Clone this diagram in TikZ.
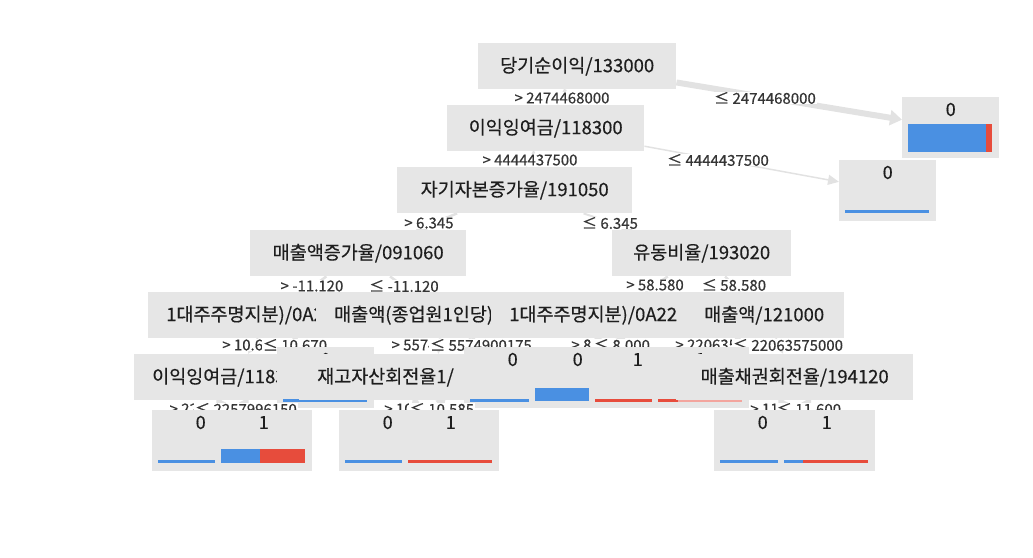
\documentclass[tikz,border=0pt]{standalone}
\usepackage{fontspec}
\setmainfont{Noto Sans CJK KR}[FakeBold=0.4]
\usepackage{tikz}
\usetikzlibrary{arrows.meta,backgrounds}

\definecolor{boxgray}{RGB}{230,230,230}
\definecolor{edgegray}{RGB}{226,226,226}
\definecolor{ink}{RGB}{30,30,30}
\definecolor{barblue}{RGB}{74,144,226}
\definecolor{barred}{RGB}{231,76,60}

\begin{document}
\begin{tikzpicture}[x=1pt, y=-1pt,
  box/.style={fill=boxgray, inner sep=0pt, minimum height=46pt, anchor=north west, text=ink, font=\fontsize{18.5}{21}\selectfont},
  cutbox/.style={box, text width=#1, align=left, inner xsep=18pt},
  leaf/.style={fill=boxgray, inner sep=0pt, minimum width=97pt, minimum height=61pt, anchor=north west},
  digit/.style={inner sep=0pt, text=ink, font=\fontsize{18}{21}\selectfont},
  rule/.style={fill=white, inner xsep=1pt, inner ysep=0.5pt, text=ink!90, font=\fontsize{15}{17}\selectfont},
  branch/.style={draw=edgegray, line width=2.5pt, -{Triangle[length=11pt,width=10pt]}}]
\useasboundingbox (0,0) rectangle (1033,557);

\node[box, minimum width=198pt] (root) at (478,43) {당기순이익/133000};
\node[rule] (rootgt) at (562,98) {> 2474468000};
\node[rule] (rootle) at (765,98) {≤ 2474468000};
\node[leaf] (lfa) at (902,97) {};
\node[digit] (lfan) at ([yshift=-12.5pt]lfa.north) {0};
\fill[barblue] (908,124) rectangle (986,152);
\fill[barred] (986,124) rectangle (992,152);

\node[box, minimum width=197pt] (profit) at (447,105) {이익잉여금/118300};
\node[rule] (profitgt) at (530,160) {> 4444437500};
\node[rule] (profitle) at (718,160) {≤ 4444437500};
\node[leaf] (lfb) at (839,160) {};
\node[digit] (lfbn) at ([yshift=-12.5pt]lfb.north) {0};
\fill[barblue] (845,210) rectangle (929,213);

\node[box, minimum width=235pt] (equity) at (397,167) {자기자본증가율/191050};
\node[rule] (equitygt) at (429,223) {> 6.345};
\node[rule] (equityle) at (610,223) {≤ 6.345};

\node[box, minimum width=216pt] (sales) at (250,230) {매출액증가율/091060};
\node[box, minimum width=179pt] (current) at (612,230) {유동비율/193020};
\node[rule] (salesgt) at (312,286) {> -11.120};
\node[rule] (salesle) at (404,286) {≤ -11.120};
\node[rule] (currentgt) at (655,285) {> 58.580};
\node[rule] (currentle) at (734,285) {≤ 58.580};

\node[cutbox=214pt] (owner) at (148,292) {1대주주명지분)/0A22};
\node[cutbox=218pt] (staff) at (316,292) {매출액(종업원1인당)};
\node[cutbox=204pt] (ownerb) at (491,292) {1대주주명지분)/0A22};
\node[box, minimum width=160pt] (revenue) at (684,292) {매출액/121000};
\node[rule] (ownergt) at (251,345) {> 10.670};
\node[rule] (ownerle) at (295,345) {≤ 10.670};
\node[rule] (staffgt) at (439,345) {> 5574900175};
\node[rule] (staffle) at (481,345) {≤ 5574900175};
\node[rule] (ownerbgt) at (596,345) {> 8.000};
\node[rule] (ownerble) at (622,345) {≤ 8.000};
\node[rule] (revenuegt) at (727,345) {> 22063575000};
\node[rule] (revenuele) at (788,345) {≤ 22063575000};

\node[cutbox=161pt] (retained) at (134,354) {이익잉여금/118300};
\node[leaf] (lfc) at (277,347) {};
\node[digit] (lfcn) at ([yshift=-12.5pt]lfc.north) {0};
\fill[barblue] (283,399) rectangle (367,402);
\node[cutbox=236pt] (stock) at (299,354) {재고자산회전율1/};
\node[leaf] (lfd) at (464,347) {};
\node[digit] (lfdn) at ([yshift=-12.5pt]lfd.north) {0};
\fill[barblue] (470,399) rectangle (554,402);
\node[leaf] (lfe) at (529,347) {};
\node[digit] (lfen) at ([yshift=-12.5pt]lfe.north) {0};
\fill[barblue] (535,388) rectangle (619,401);
\node[leaf] (lff) at (589,347) {};
\node[digit] (lffn) at ([yshift=-12.5pt]lff.north) {1};
\fill[barred] (595,399) rectangle (679,402);
\node[leaf] (lfg) at (652,347) {};
\node[digit] (lfgn) at ([yshift=-12.5pt]lfg.north) {1};
\fill[barred] (658,399) rectangle (678,402);
\fill[barred!50] (678,399) rectangle (742,402);
\node[box, minimum width=237pt] (receiv) at (676,354) {매출채권회전율/194120};
\node[rule] (retainedgt) at (217,409) {> 2257996150};
\node[rule] (retainedle) at (246,409) {≤ 2257996150};
\node[rule] (stockgt) at (413,409) {> 10.585};
\node[rule] (stockle) at (442,409) {≤ 10.585};
\node[rule] (receivgt) at (779,409) {> 11.600};
\node[rule] (receivle) at (809,409) {≤ 11.600};

\node[leaf] (lfh) at (152,410) {};
\node[digit] (lfhn) at ([yshift=-12.5pt]lfh.north) {0};
\fill[barblue] (158,460) rectangle (242,463);
\node[leaf] (lfi) at (215,410) {};
\node[digit] (lfin) at ([yshift=-12.5pt]lfi.north) {1};
\fill[barblue] (221,449) rectangle (260,463);
\fill[barred] (260,449) rectangle (305,463);
\node[leaf] (lfj) at (339,410) {};
\node[digit] (lfjn) at ([yshift=-12.5pt]lfj.north) {0};
\fill[barblue] (345,460) rectangle (429,463);
\node[leaf] (lfk) at (402,410) {};
\node[digit] (lfkn) at ([yshift=-12.5pt]lfk.north) {1};
\fill[barred] (408,460) rectangle (492,463);
\node[leaf] (lfl) at (714,410) {};
\node[digit] (lfln) at ([yshift=-12.5pt]lfl.north) {0};
\fill[barblue] (720,460) rectangle (804,463);
\node[leaf] (lfm) at (778,410) {};
\node[digit] (lfmn) at ([yshift=-12.5pt]lfm.north) {1};
\fill[barblue] (784,460) rectangle (803,463);
\fill[barred] (803,460) rectangle (868,463);

\begin{scope}[on background layer]
\draw[branch, line width=6pt, -{Triangle[length=12pt,width=15pt]}] (root) -- (lfa);
\draw[branch, line width=3pt] (root) -- (profit);
\draw[branch, line width=1.5pt] (profit) -- (lfb);
\draw[branch] (profit) -- (equity);
\draw[branch] (equity) -- (sales);
\draw[branch, line width=2pt] (equity) -- (current);
\draw[branch] (sales) -- (owner);
\draw[branch] (sales) -- (staff);
\draw[branch] (current) -- (ownerb);
\draw[branch] (current) -- (revenue);
\draw[branch] (owner) -- (retained);
\draw[branch] (owner) -- (lfc);
\draw[branch] (staff) -- (stock);
\draw[branch] (staff) -- (lfd);
\draw[branch] (ownerb) -- (lfe);
\draw[branch] (ownerb) -- (lff);
\draw[branch] (revenue) -- (lfg);
\draw[branch] (revenue) -- (receiv);
\draw[branch] (retained) -- (lfh);
\draw[branch] (retained) -- (lfi);
\draw[branch] (stock) -- (lfj);
\draw[branch] (stock) -- (lfk);
\draw[branch] (receiv) -- (lfl);
\draw[branch] (receiv) -- (lfm);
\end{scope}
\end{tikzpicture}
\end{document}
